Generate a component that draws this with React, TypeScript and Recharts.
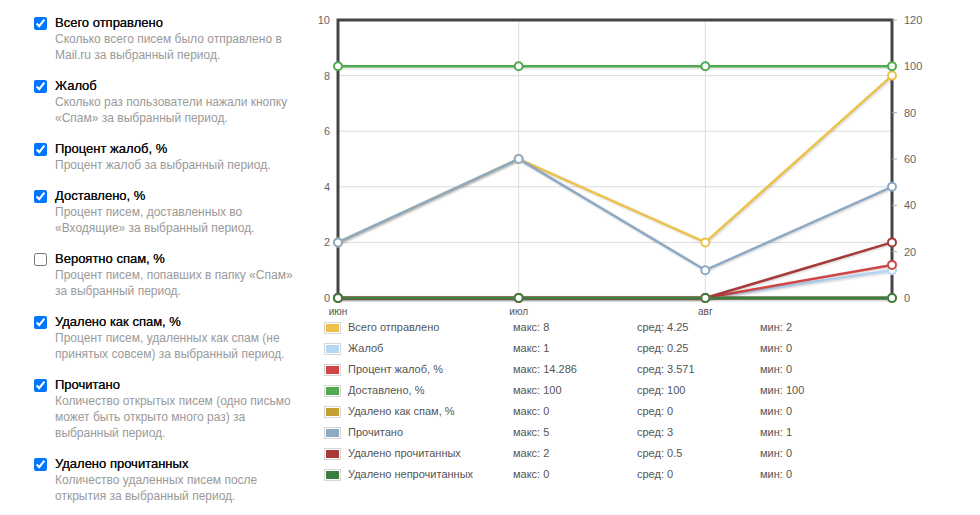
import React from "react";
import {
  LineChart,
  Line,
  XAxis,
  YAxis,
  CartesianGrid,
  ReferenceArea,
} from "recharts";

// левая панель: показатели и описания
const metricTitles = [
  "Всего отправлено",
  "Жалоб",
  "Процент жалоб, %",
  "Доставлено, %",
  "Вероятно спам, %",
  "Удалено как спам, %",
  "Прочитано",
  "Удалено прочитанных",
];
const metricChecked = [true, true, true, true, false, true, true, true];
const metricDescriptions = [
  ["Сколько всего писем было отправлено в", "Mail.ru за выбранный период."],
  ["Сколько раз пользователи нажали кнопку", "«Спам» за выбранный период."],
  ["Процент жалоб за выбранный период."],
  ["Процент писем, доставленных во", "«Входящие» за выбранный период."],
  ["Процент писем, попавших в папку «Спам»", "за выбранный период."],
  ["Процент писем, удаленных как спам (не", "принятых совсем) за выбранный период."],
  [
    "Количество открытых писем (одно письмо",
    "может быть открыто много раз) за",
    "выбранный период.",
  ],
  ["Количество удаленных писем после", "открытия за выбранный период."],
];

// ось X — начало месяца
const xDates = [
  Date.UTC(2019, 5, 1),
  Date.UTC(2019, 6, 1),
  Date.UTC(2019, 7, 1),
  Date.UTC(2019, 8, 1),
];
const monthLabels = ["июн", "июл", "авг"];

const leftTicks = [0, 2, 4, 6, 8, 10];
const rightTicks = [0, 20, 40, 60, 80, 100, 120];

// серии
const sent = [2, 5, 2, 8];
const complaints = [0, 0, 0, 1];
const complaintPct = [0, 0, 0, 14.286];
const delivered = [100, 100, 100, 100];
const deletedSpamPct = [0, 0, 0, 0];
const readCount = [2, 5, 1, 4];
const deletedRead = [0, 0, 0, 2];
const deletedUnread = [0, 0, 0, 0];

const seriesNames = [
  "Всего отправлено",
  "Жалоб",
  "Процент жалоб, %",
  "Доставлено, %",
  "Удалено как спам, %",
  "Прочитано",
  "Удалено прочитанных",
  "Удалено непрочитанных",
];
const seriesKeys = [
  "sent",
  "complaints",
  "complaintPct",
  "delivered",
  "deletedSpamPct",
  "readCount",
  "deletedRead",
  "deletedUnread",
];
const seriesAxis = ["left", "left", "right", "right", "right", "left", "left", "left"];
const seriesColors = [
  "#ecc24a",
  "#b6d6f4",
  "#d04646",
  "#4fa94f",
  "#c4a032",
  "#8ea9c4",
  "#a63a3a",
  "#3b7d3e",
];
const maxLabels = ["8", "1", "14.286", "100", "0", "5", "2", "0"];
const avgLabels = ["4.25", "0.25", "3.571", "100", "0", "3", "0.5", "0"];
const minLabels = ["2", "0", "0", "100", "0", "1", "0", "0"];

const seriesValues = [
  sent,
  complaints,
  complaintPct,
  delivered,
  deletedSpamPct,
  readCount,
  deletedRead,
  deletedUnread,
];

const chartData = xDates.map((t, i) => {
  const row: Record<string, number> = { t };
  seriesKeys.forEach((k, s) => {
    row[k] = seriesValues[s][i];
  });
  return row;
});

const font = "Arial, 'Liberation Sans', sans-serif";

function MetricList() {
  return (
    <div style={{ position: "absolute", left: 34, top: 15, width: 270 }}>
      {metricTitles.map((title, i) => (
        <div key={title} style={{ display: "flex", marginBottom: 15 }}>
          <input
            type="checkbox"
            checked={metricChecked[i]}
            readOnly
            style={{ margin: "2px 8px 0 0", width: 13, height: 13 }}
          />
          <div>
            <div
              style={{
                fontSize: 13,
                lineHeight: "16px",
                color: "#111",
                textShadow: "0 0 0.4px #111",
              }}
            >
              {title}
            </div>
            {metricDescriptions[i].map((line) => (
              <div
                key={line}
                style={{ fontSize: 12, lineHeight: "16px", color: "#9a9a9a" }}
              >
                {line}
              </div>
            ))}
          </div>
        </div>
      ))}
    </div>
  );
}

function StatsLegend() {
  return (
    <div style={{ position: "absolute", left: 323, top: 317, fontSize: 11, color: "#555" }}>
      {seriesNames.map((name, i) => (
        <div
          key={name}
          style={{ position: "relative", height: 21, lineHeight: "21px", width: 500 }}
        >
          <span
            style={{
              position: "absolute",
              left: 1,
              top: 5,
              width: 17,
              height: 12,
              border: "1px solid #d6d6d6",
              padding: 1,
              boxSizing: "border-box",
              background: "#fff",
            }}
          >
            <span
              style={{
                display: "block",
                width: "100%",
                height: "100%",
                background: seriesColors[i],
              }}
            />
          </span>
          <span style={{ position: "absolute", left: 25 }}>{name}</span>
          <span style={{ position: "absolute", left: 190 }}>макс: {maxLabels[i]}</span>
          <span style={{ position: "absolute", left: 314 }}>сред: {avgLabels[i]}</span>
          <span style={{ position: "absolute", left: 437 }}>мин: {minLabels[i]}</span>
        </div>
      ))}
    </div>
  );
}

export default function App() {
  return (
    <div
      style={{
        position: "absolute",
        left: 0,
        top: 0,
        width: 980,
        height: 515,
        background: "#fff",
        fontFamily: font,
      }}
    >
      <style>{`.recharts-line-curve { filter: drop-shadow(1px 1px 1px rgba(0,0,0,0.18)); }`}</style>
      <MetricList />
      <div style={{ position: "absolute", left: 300, top: 0 }}>
        <LineChart
          width={640}
          height={320}
          data={chartData}
          margin={{ top: 20, right: 0, left: 0, bottom: 0 }}
        >
          <CartesianGrid yAxisId="left" stroke="#dcdcdc" strokeWidth={1} />
          <XAxis
            dataKey="t"
            type="number"
            scale="time"
            domain={[xDates[0], xDates[3]]}
            ticks={xDates.slice(0, 3)}
            tickFormatter={(v: number) => monthLabels[xDates.indexOf(v)] ?? ""}
            axisLine={false}
            tickLine={false}
            tickMargin={4}
            height={22}
            tick={{ fontSize: 10, fill: "#555", fontFamily: font }}
          />
          <YAxis
            yAxisId="left"
            domain={[0, 10]}
            ticks={leftTicks}
            axisLine={false}
            tickLine={false}
            width={38}
            tick={{ fontSize: 11, fill: "#666", fontFamily: font }}
          />
          <YAxis
            yAxisId="right"
            orientation="right"
            domain={[0, 120]}
            ticks={rightTicks}
            axisLine={false}
            tickLine={{ stroke: "#aaa" }}
            stroke="#666"
            tickSize={5}
            tickMargin={7}
            width={48}
            tick={{ fontSize: 11, fill: "#666", fontFamily: font }}
          />
          <ReferenceArea
            yAxisId="left"
            x1={xDates[0]}
            x2={xDates[3]}
            y1={0}
            y2={10}
            fill="none"
            stroke="#454545"
            strokeWidth={3}
          />
          {seriesKeys.map((k, i) => (
            <Line
              key={k}
              yAxisId={seriesAxis[i]}
              dataKey={k}
              type="linear"
              stroke={seriesColors[i]}
              strokeWidth={2.5}
              dot={{ r: 4, fill: "#fff", stroke: seriesColors[i], strokeWidth: 2 }}
              activeDot={false}
              isAnimationActive={false}
            />
          ))}
        </LineChart>
      </div>
      <StatsLegend />
    </div>
  );
}
